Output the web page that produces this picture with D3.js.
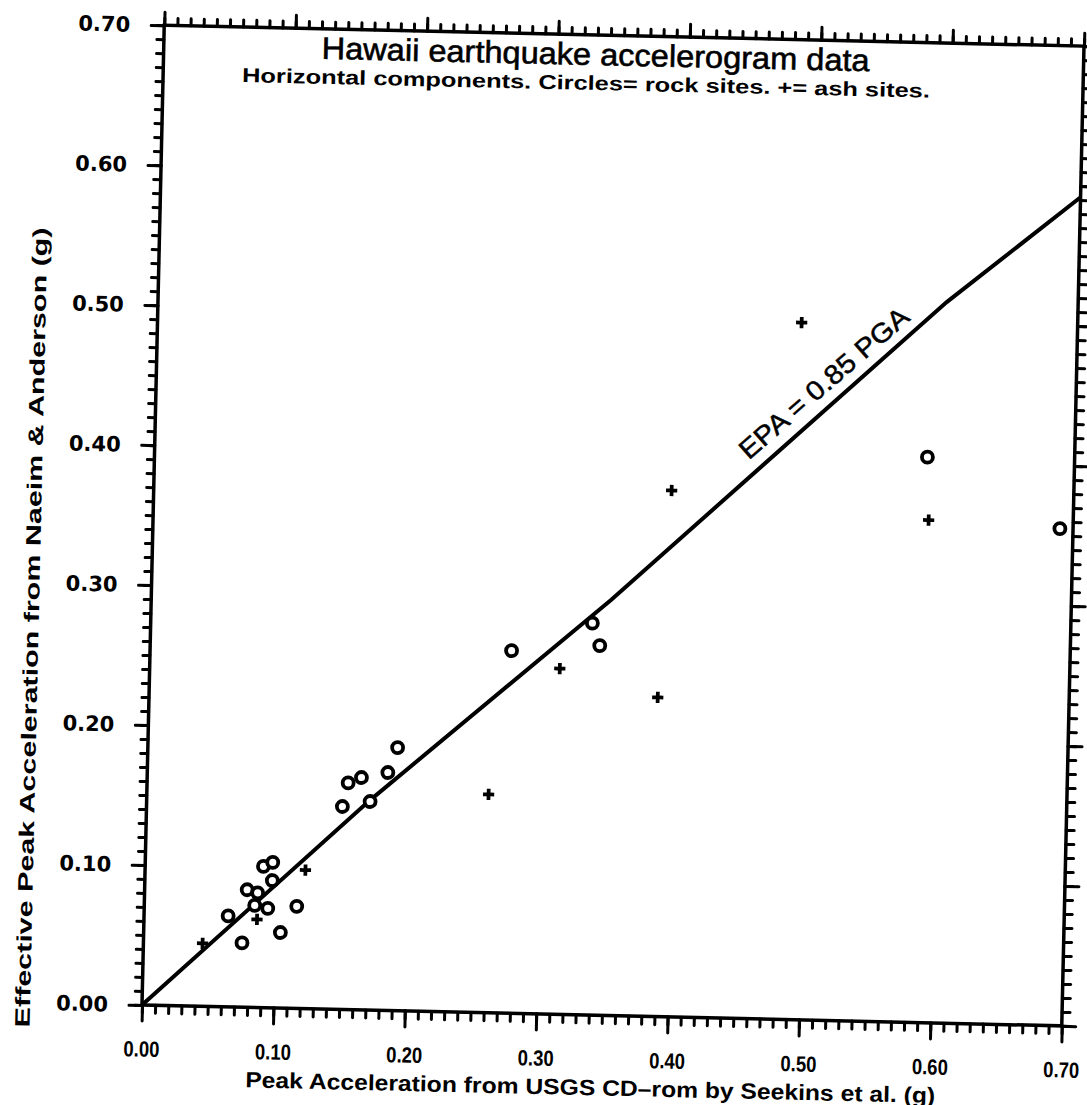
<!DOCTYPE html>
<html>
<head>
<meta charset="utf-8">
<script src="https://cdn.jsdelivr.net/npm/d3@7"></script>
<style>
  body { margin: 0; background: #fff; }
  svg { display: block; }
  .tick line { stroke: #000; stroke-width: 3px; stroke-linecap: round; }
</style>
</head>
<body>
<svg width="1087" height="1105"></svg>
<script>
// values
const rockX = [0.075, 0.064, 0.104, 0.116, 0.097, 0.090, 0.097, 0.078, 0.086, 0.084, 0.094,
               0.149, 0.153, 0.163, 0.170, 0.183, 0.190, 0.275, 0.336, 0.342, 0.588, 0.690];
const rockY = [0.046, 0.065, 0.054, 0.073, 0.091, 0.101, 0.104, 0.084, 0.082, 0.073, 0.071,
               0.145, 0.162, 0.166, 0.149, 0.170, 0.188, 0.259, 0.280, 0.264, 0.404, 0.355];
const ashX = [0.045, 0.086, 0.122, 0.260, 0.312, 0.387, 0.394, 0.490, 0.590];
const ashY = [0.045, 0.063, 0.099, 0.156, 0.247, 0.228, 0.376, 0.498, 0.359];
// EPA = 0.85 PGA line as drawn on the figure
const lineX = [0, 0.17, 0.35, 0.60, 0.70];
const lineY = [0, 0.150, 0.297, 0.515, 0.592];
const xTicks = [0, 0.1, 0.2, 0.3, 0.4, 0.5, 0.6, 0.7];
const yTicks = [0, 0.1, 0.2, 0.3, 0.4, 0.5, 0.6, 0.7];
const minorTicks = d3.range(0, 71).map(i => i / 100);

const svg = d3.select("svg");
const pw = 920, ph = 980;
const x = d3.scaleLinear().domain([0, 0.7]).range([0, pw]);
const y = d3.scaleLinear().domain([0, 0.7]).range([0, -ph]);
const fmt = d3.format(".2f");
const sans = "'Liberation Sans', Arial, sans-serif";
const wide = "'DejaVu Sans', Verdana, sans-serif";

// the scan is turned a little clockwise
const g = svg.append("g").attr("transform", "translate(142,1005) rotate(1.3)");

function noDomain(sel) {
    sel.select(".domain").remove();
}

// minor + major ticks on all four sides
g.append("g").call(d3.axisBottom(x).tickValues(minorTicks).tickSize(8).tickFormat("")).call(noDomain);
g.append("g").call(d3.axisBottom(x).tickValues(xTicks).tickSize(16).tickFormat("")).call(noDomain);
g.append("g").attr("transform", `translate(0,${-ph})`)
    .call(d3.axisTop(x).tickValues(minorTicks).tickSize(7).tickFormat("")).call(noDomain);
g.append("g").attr("transform", `translate(0,${-ph})`)
    .call(d3.axisTop(x).tickValues(xTicks).tickSize(13).tickFormat("")).call(noDomain);
g.append("g").call(d3.axisLeft(y).tickValues(minorTicks).tickSize(7).tickFormat("")).call(noDomain);
g.append("g").call(d3.axisLeft(y).tickValues(yTicks).tickSize(13).tickFormat("")).call(noDomain);
g.append("g").attr("transform", `translate(${pw},0)`)
    .call(d3.axisRight(y).tickValues(minorTicks).tickSize(8).tickFormat("")).call(noDomain);
g.append("g").attr("transform", `translate(${pw},0)`)
    .call(d3.axisRight(y).tickValues(yTicks).tickSize(14).tickFormat("")).call(noDomain);

// tick labels
const xl = g.append("g").call(d3.axisBottom(x).tickValues(xTicks).tickSize(0).tickPadding(36).tickFormat(fmt));
xl.call(noDomain);
xl.selectAll("text").style("font-family", sans).style("font-weight", "bold")
    .style("font-size", "22px").attr("fill", "#000")
    .attr("textLength", 36).attr("lengthAdjust", "spacingAndGlyphs");

const yl = g.append("g").call(d3.axisLeft(y).tickValues(yTicks).tickSize(0).tickPadding(34).tickFormat(fmt));
yl.call(noDomain);
yl.selectAll("text").style("font-family", wide).style("font-weight", "bold")
    .style("font-size", "21px").attr("fill", "#000");

// frame
g.append("rect").attr("x", 0).attr("y", -ph).attr("width", pw).attr("height", ph)
    .attr("fill", "none").attr("stroke", "#000").attr("stroke-width", 3.5);

// EPA line
g.append("path")
    .datum(lineX.map((v, i) => [v, lineY[i]]))
    .attr("d", d3.line().x(d => x(d[0])).y(d => y(d[1])))
    .attr("fill", "none").attr("stroke", "#000").attr("stroke-width", 4);

// ash sites (+)
g.append("g").selectAll("path")
    .data(ashX.map((v, i) => [v, ashY[i]]))
    .join("path")
    .attr("transform", d => `translate(${x(d[0])},${y(d[1])})`)
    .attr("d", d3.symbol(d3.symbolCross, 70))
    .attr("fill", "#000");

// rock sites (o)
g.append("g").selectAll("circle")
    .data(rockX.map((v, i) => [v, rockY[i]]))
    .join("circle")
    .attr("cx", d => x(d[0]))
    .attr("cy", d => y(d[1]))
    .attr("r", 5.5)
    .attr("fill", "#fff").attr("stroke", "#000").attr("stroke-width", 3.8);

// titles
g.append("text").attr("x", 432).attr("y", -950).attr("text-anchor", "middle")
    .style("font-family", sans).style("font-size", "31px")
    .attr("stroke", "#000").attr("stroke-width", 0.6)
    .attr("textLength", 548).attr("lengthAdjust", "spacingAndGlyphs")
    .text("Hawaii earthquake accelerogram data");
g.append("text").attr("x", 423).attr("y", -925).attr("text-anchor", "middle")
    .style("font-family", sans).style("font-weight", "bold").style("font-size", "20px")
    .attr("textLength", 688).attr("lengthAdjust", "spacingAndGlyphs")
    .text("Horizontal components. Circles= rock sites. += ash sites.");

// axis titles
g.append("text").attr("x", 450).attr("y", 80).attr("text-anchor", "middle")
    .style("font-family", sans).style("font-weight", "bold").style("font-size", "22px")
    .attr("textLength", 690).attr("lengthAdjust", "spacingAndGlyphs")
    .text("Peak Acceleration from USGS CD\u2013rom by Seekins et al. (g)");
g.append("text").attr("transform", "translate(-112,-375) rotate(-90)").attr("text-anchor", "middle")
    .style("font-family", sans).style("font-weight", "bold").style("font-size", "21px")
    .attr("textLength", 800).attr("lengthAdjust", "spacingAndGlyphs")
    .text("Effective Peak Acceleration from Naeim & Anderson (g)");

// line label
svg.append("text").attr("transform", "translate(830,390) rotate(-41)").attr("text-anchor", "middle")
    .style("font-family", sans).style("font-size", "27px")
    .attr("stroke", "#000").attr("stroke-width", 0.5)
    .attr("textLength", 215).attr("lengthAdjust", "spacingAndGlyphs")
    .text("EPA = 0.85 PGA");
</script>
</body>
</html>
